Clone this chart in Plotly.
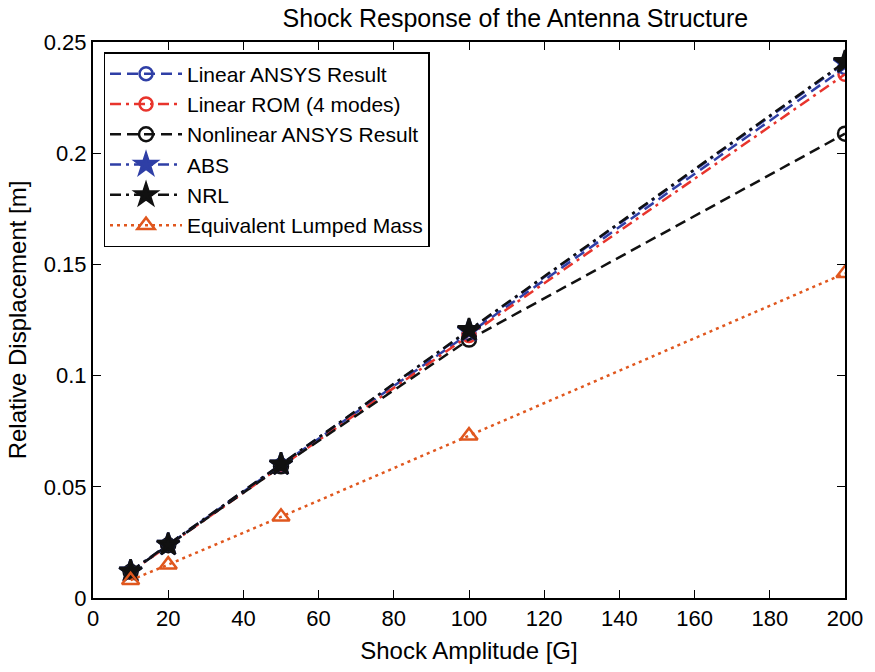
import plotly.graph_objects as go

# Shock amplitude [G]
amplitude = [10, 20, 50, 100, 200]

# Relative displacement [m] for each model
linear_ansys = [0.0118, 0.0238, 0.0598, 0.1190, 0.2385]
linear_rom = [0.0117, 0.0236, 0.0592, 0.1180, 0.2355]
nonlinear_ansys = [0.0118, 0.0237, 0.0592, 0.1162, 0.2088]
abs_rule = [0.0120, 0.0240, 0.0601, 0.1202, 0.2405]
nrl_rule = [0.0120, 0.0240, 0.0601, 0.1205, 0.2410]
lumped_mass = [0.0080, 0.0150, 0.0365, 0.0730, 0.1460]

BLUE = "#2f3fa6"
RED = "#e8342c"
BLACK = "#111111"
ORANGE = "#e0571e"

DASH = "11px,6px"
DASHDOT = "11px,5px,3px,5px"
DOT = "3px,4px"

series = [
    ("Linear ANSYS Result", linear_ansys, BLUE, DASH, "circle-open", 13),
    ("Linear ROM (4 modes)", linear_rom, RED, DASHDOT, "circle-open", 13),
    ("Nonlinear ANSYS Result", nonlinear_ansys, BLACK, DASH, "circle-open", 14),
    ("ABS", abs_rule, BLUE, DASHDOT, "star", 17),
    ("NRL", nrl_rule, BLACK, DASHDOT, "star", 17),
    ("Equivalent Lumped Mass", lumped_mass, ORANGE, DOT, "triangle-up-open", 15),
]

fig = go.Figure()
for name, vals, color, dash, symbol, size in series:
    fig.add_trace(go.Scatter(
        x=amplitude, y=vals, name=name, mode="lines+markers",
        line=dict(color=color, width=2.5, dash=dash),
        marker=dict(symbol=symbol, size=size, color=color,
                    line=dict(color=color, width=2.5)),
    ))

font = "Liberation Sans, Arial, Helvetica, sans-serif"
axis_common = dict(
    showline=True, linecolor="black", linewidth=2, mirror="ticks",
    ticks="inside", ticklen=8, tickcolor="black", tickwidth=1,
    showgrid=False, zeroline=False,
    tickfont=dict(family=font, size=22, color="black"),
)

fig.update_layout(
    width=875, height=672,
    margin=dict(l=93, r=23, t=42, b=71),
    paper_bgcolor="white", plot_bgcolor="white",
    title=dict(text="Shock Response of the Antenna Structure",
               x=0.589, xref="container", xanchor="center",
               y=0.973, yanchor="middle",
               font=dict(family=font, size=25, color="black")),
    xaxis=dict(range=[0, 200], dtick=20, tick0=0,
               title=dict(text="Shock Amplitude [G]", standoff=12,
                          font=dict(family=font, size=24, color="black")),
               **axis_common),
    yaxis=dict(range=[0, 0.25], dtick=0.05, tick0=0,
               title=dict(text="Relative Displacement [m]", standoff=10,
                          font=dict(family=font, size=24, color="black")),
               **axis_common),
    legend=dict(x=0.014, y=0.982, xanchor="left", yanchor="top",
                bgcolor="white", bordercolor="black", borderwidth=1.5,
                itemwidth=72, tracegroupgap=0,
                font=dict(family=font, size=21, color="black")),
    showlegend=True,
)

fig.write_html("out.html")
